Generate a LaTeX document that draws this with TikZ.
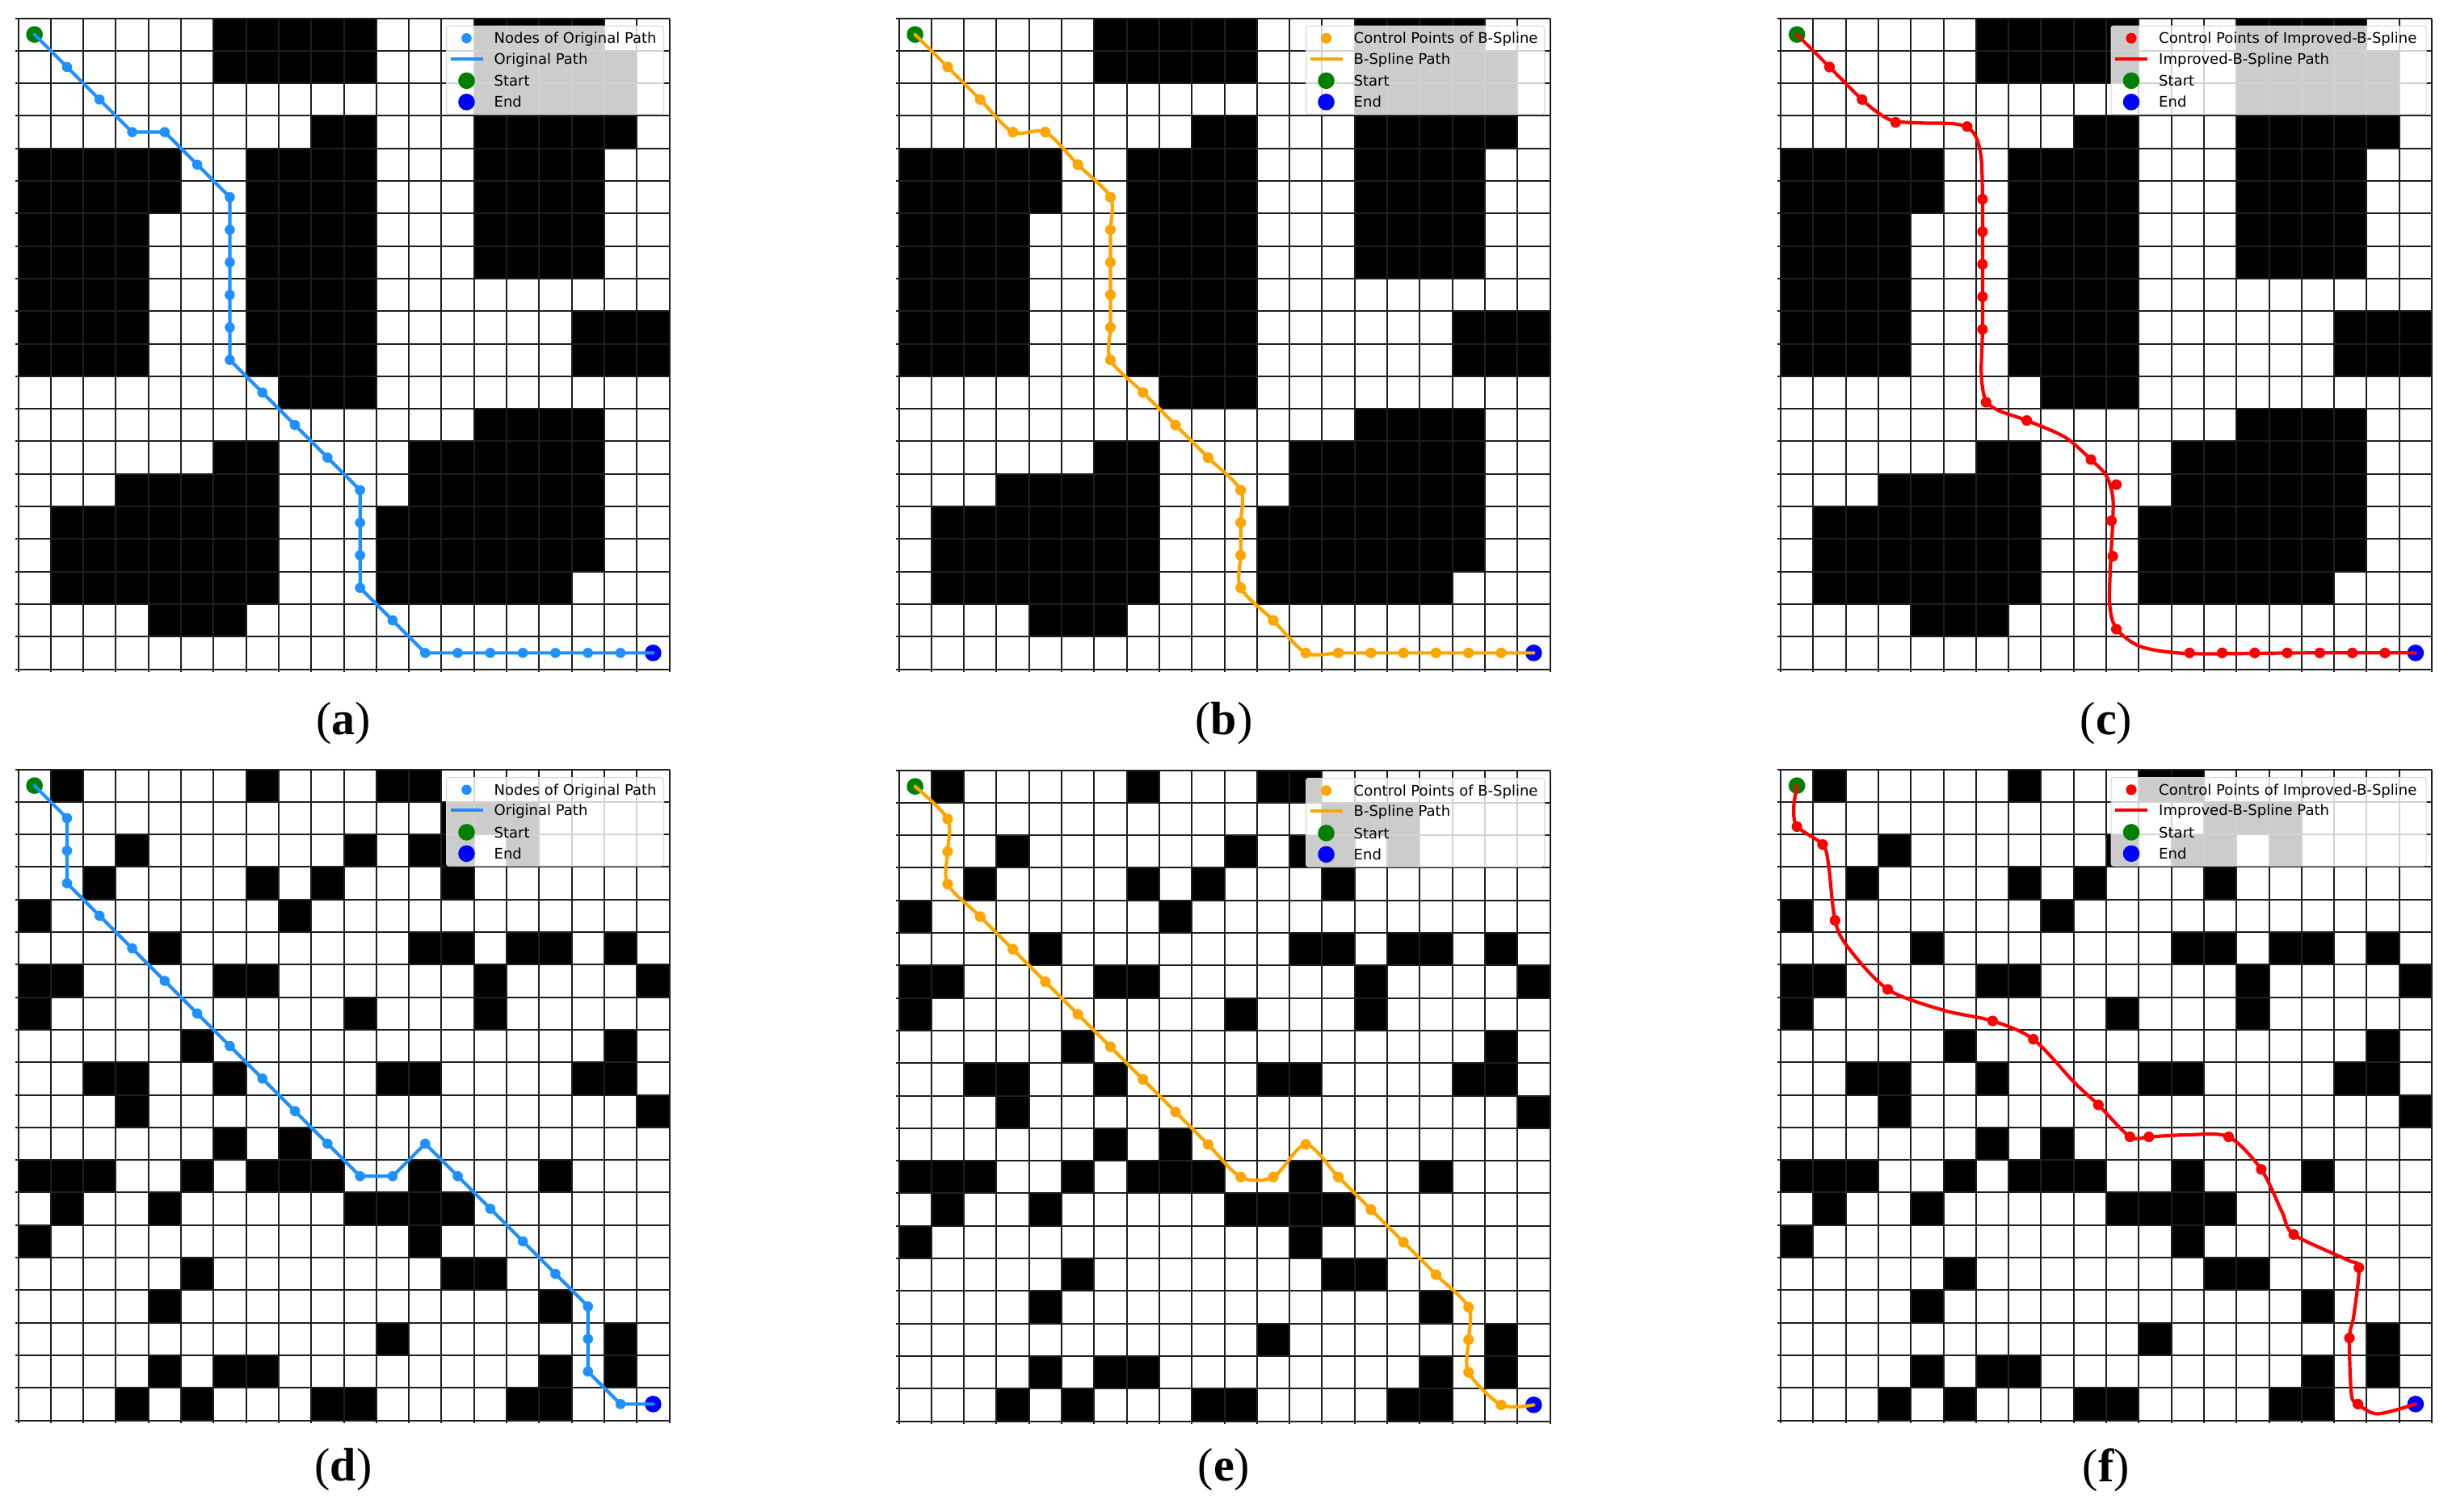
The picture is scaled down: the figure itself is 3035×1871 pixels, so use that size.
\documentclass[tikz,border=0pt]{standalone}
\usepackage{fontspec}
\setmainfont{Liberation Serif}
\newfontfamily\legfont{DejaVu Sans}
\definecolor{mplblue}{RGB}{30,144,255}
\definecolor{mplorange}{RGB}{255,165,0}
\definecolor{mplred}{RGB}{255,0,0}
\definecolor{mplgreen}{RGB}{0,128,0}
\definecolor{mplend}{RGB}{0,0,255}
\definecolor{legedge}{RGB}{214,214,214}
\definecolor{gridcol}{RGB}{30,30,30}
\tikzset{
  gridline/.style={line width=2pt, gridcol},
  legbox/.style={draw=legedge, line width=1pt, fill=white, fill opacity=0.8, rounded corners=3pt},
  legtext/.style={anchor=base west, inner sep=0pt, font=\legfont\fontsize{18}{20}\selectfont, text=black},
  sublabel/.style={font=\fontsize{58}{62}\selectfont, inner sep=0pt},
  pathline/.style={line width=4.2pt, line join=round, line cap=round},
  panel/.style={x=40.3pt, y=-40.3pt}
}
\newcommand\mapAcells{%
  \fill (6,0) rectangle (11,2);
  \fill (14,0) rectangle (18,1);
  \fill (14,1) rectangle (19,4);
  \fill (14,4) rectangle (18,8);
  \fill (9,3) rectangle (11,4);
  \fill (7,4) rectangle (11,11);
  \fill (8,11) rectangle (11,12);
  \fill (0,4) rectangle (5,6);
  \fill (0,6) rectangle (4,11);
  \fill (17,9) rectangle (20,11);
  \fill (14,12) rectangle (18,13);
  \fill (12,13) rectangle (18,15);
  \fill (11,15) rectangle (18,17);
  \fill (11,17) rectangle (17,18);
  \fill (6,13) rectangle (8,14);
  \fill (3,14) rectangle (8,15);
  \fill (1,15) rectangle (8,18);
  \fill (4,18) rectangle (7,19);
}
\newcommand\mapDcells{%
  \foreach \c/\r in {1/0,7/0,11/0,12/0,
    13/1,14/1,15/1,
    3/2,10/2,12/2,13/2,15/2,
    2/3,7/3,9/3,13/3,
    0/4,8/4,
    4/5,12/5,13/5,15/5,16/5,18/5,
    0/6,1/6,6/6,7/6,14/6,19/6,
    0/7,10/7,14/7,
    5/8,18/8,
    2/9,3/9,6/9,11/9,12/9,17/9,18/9,
    3/10,19/10,
    6/11,8/11,
    0/12,1/12,2/12,5/12,7/12,8/12,9/12,12/12,16/12,
    1/13,4/13,10/13,11/13,12/13,13/13,
    0/14,12/14,
    5/15,13/15,14/15,
    4/16,16/16,
    11/17,18/17,
    4/18,6/18,7/18,16/18,18/18,
    3/19,5/19,9/19,10/19,15/19,16/19}
    {\fill (\c,\r) rectangle ++(1,1);}
}
\newcommand\gridlines{%
  \foreach \i in {0,...,20} {
    \draw[gridline] (\i,0) -- (\i,20.09);
    \draw[gridline] (-0.09,\i) -- (20,\i);
  }
}
\newcommand\startend{%
  \fill[mplgreen] (0,0) circle (10.3pt);
  \fill[mplend] (19,19) circle (10.3pt);
}
% #1 X0, #2 Y0, #3 left of box, #4 colour, #5 first text, #6 second text, #7 name prefix, #8 dot radius
\newcommand\drawlegend[8]{%
  \begin{scope}[shift={(#1,#2)}]
    \draw[legbox] (#3,10.5) rectangle (799,120);
    \fill[#4] (#3+25,25.8) circle (#8);
    \draw[#4, line width=4pt] (#3+5,51) -- (#3+45,51);
    \fill[mplgreen] (#3+25,78.4) circle (10.3pt);
    \fill[mplend] (#3+25,104.8) circle (10.3pt);
    \node[legtext] (#7l1) at (#3+59,32.4) {#5};
    \node[legtext] (#7l2) at (#3+59,57.6) {#6};
    \node[legtext] (#7l3) at (#3+59,85) {Start};
    \node[legtext] (#7l4) at (#3+59,111.4) {End};
  \end{scope}
}
\begin{document}
\begin{tikzpicture}[x=1pt,y=-1pt]
\useasboundingbox[fill=white] (0,0) rectangle (3035,1871);

% ---------------- (a) ----------------
\begin{scope}[shift={(22.5,22.5)}, panel]
  \mapAcells
  \gridlines
  \begin{scope}[shift={(0.5,0.5)}]
    \foreach \u/\v in {1/1,2/2,3/3,4/3,5/4,6/5,6/6,6/7,6/8,6/9,6/10,7/11,8/12,9/13,10/14,10/15,10/16,10/17,11/18,12/19,13/19,14/19,15/19,16/19,17/19,18/19}
      {\fill[mplblue] (\u,\v) circle (6.3pt);}
    \startend
    \draw[pathline, mplblue] plot coordinates {(0,0) (1,1) (2,2) (3,3) (4,3) (5,4) (6,5) (6,6) (6,7) (6,8) (6,9) (6,10) (7,11) (8,12) (9,13) (10,14) (10,15) (10,16) (10,17) (11,18) (12,19) (13,19) (14,19) (15,19) (16,19) (17,19) (18,19) (19,19)};
  \end{scope}
\end{scope}
\drawlegend{22.5}{21.5}{530}{mplblue}{Nodes of Original Path}{Original Path}{a}{6.3pt}

% ---------------- (b) ----------------
\begin{scope}[shift={(1112.5,22.5)}, panel]
  \mapAcells
  \gridlines
  \begin{scope}[shift={(0.5,0.5)}]
    \foreach \u/\v in {1/1,2/2,3/3,4/3,5/4,6/5,6/6,6/7,6/8,6/9,6/10,7/11,8/12,9/13,10/14,10/15,10/16,10/17,11/18,12/19,13/19,14/19,15/19,16/19,17/19,18/19}
      {\fill[mplorange] (\u,\v) circle (6.6pt);}
    \startend
    \draw[pathline, mplorange] plot[smooth, tension=0.5] coordinates {(0,0) (1,1) (2,2) (3,3) (4,3) (5,4) (6,5) (6,6) (6,7) (6,8) (6,9) (6,10) (7,11) (8,12) (9,13) (10,14) (10,15) (10,16) (10,17) (11,18) (12,19) (13,19) (14,19) (15,19) (16,19) (17,19) (18,19) (19,19)};
  \end{scope}
\end{scope}
\drawlegend{1112.5}{21.5}{504}{mplorange}{Control Points of B-Spline}{B-Spline Path}{b}{6.6pt}

% ---------------- (c) ----------------
\begin{scope}[shift={(2204,22.5)}, panel]
  \mapAcells
  \gridlines
  \begin{scope}[shift={(0.5,0.5)}]
    \foreach \u/\v in {1/1,2/2,3.03/2.7,5.23/2.83,5.7/5.06,5.7/6.06,5.7/7.06,5.7/8.06,5.7/9.06,5.81/11.3,7.06/11.86,9.03/13.06,9.81/13.83,9.66/14.94,9.7/16.03,9.81/18.27,12.06/19,13.06/19,14.06/19,15.06/19,16.06/19,17.06/19,18.06/19}
      {\fill[mplred] (\u,\v) circle (6.6pt);}
    \startend
    \draw[pathline, mplred] plot[smooth, tension=0.5] coordinates {(0,0) (1.03,1.03) (2.03,2.03) (2.63,2.5) (3.03,2.67) (3.83,2.72) (4.77,2.74) (5.23,2.85) (5.5,3.15) (5.66,3.8) (5.7,5.06) (5.7,7.06) (5.7,9.06) (5.66,10.3) (5.72,10.97) (5.85,11.32) (6.23,11.57) (7.06,11.86) (8.23,12.37) (9.03,13.06) (9.5,13.55) (9.7,14.2) (9.7,14.97) (9.63,16.3) (9.6,17.4) (9.7,18.03) (9.97,18.43) (10.63,18.83) (12.06,19.02) (15.5,19) (19,19)};
  \end{scope}
\end{scope}
\drawlegend{2204}{21.5}{409}{mplred}{Control Points of Improved-B-Spline}{Improved-B-Spline Path}{c}{6.6pt}

% ---------------- (d) ----------------
\begin{scope}[shift={(22.5,952.5)}, panel]
  \mapDcells
  \gridlines
  \begin{scope}[shift={(0.5,0.5)}]
    \foreach \u/\v in {1/1,1/2,1/3,2/4,3/5,4/6,5/7,6/8,7/9,8/10,9/11,10/12,11/12,12/11,13/12,14/13,15/14,16/15,17/16,17/17,17/18,18/19}
      {\fill[mplblue] (\u,\v) circle (6.3pt);}
    \startend
    \draw[pathline, mplblue] plot coordinates {(0,0) (1,1) (1,2) (1,3) (2,4) (3,5) (4,6) (5,7) (6,8) (7,9) (8,10) (9,11) (10,12) (11,12) (12,11) (13,12) (14,13) (15,14) (16,15) (17,16) (17,17) (17,18) (18,19) (19,19)};
  \end{scope}
\end{scope}
\drawlegend{22.5}{952}{530}{mplblue}{Nodes of Original Path}{Original Path}{d}{6.3pt}

% ---------------- (e) ----------------
\begin{scope}[shift={(1112.5,953.5)}, panel]
  \mapDcells
  \gridlines
  \begin{scope}[shift={(0.5,0.5)}]
    \foreach \u/\v in {1/1,1/2,1/3,2/4,3/5,4/6,5/7,6/8,7/9,8/10,9/11,10/12,11/12,12/11,13/12,14/13,15/14,16/15,17/16,17/17,17/18,18/19}
      {\fill[mplorange] (\u,\v) circle (6.6pt);}
    \startend
    \draw[pathline, mplorange] plot[smooth, tension=0.5] coordinates {(0,0) (1,1) (1,2) (1,3) (2,4) (3,5) (4,6) (5,7) (6,8) (7,9) (8,10) (9,11) (10,12) (11,12) (12,11) (13,12) (14,13) (15,14) (16,15) (17,16) (17,17) (17,18) (18,19) (19,19)};
  \end{scope}
\end{scope}
\drawlegend{1112.5}{953}{504}{mplorange}{Control Points of B-Spline}{B-Spline Path}{e}{6.6pt}

% ---------------- (f) ----------------
\begin{scope}[shift={(2204,952.5)}, panel]
  \mapDcells
  \gridlines
  \begin{scope}[shift={(0.5,0.5)}]
    \foreach \u/\v in {0/1.26,0.79/1.81,1.17/4.14,2.79/6.26,6.01/7.23,7.26/7.79,9.26/9.81,10.23/10.79,10.81/10.79,13.26/10.79,14.26/11.79,15.26/13.79,17.26/14.81,16.97/16.97,17.23/19}
      {\fill[mplred] (\u,\v) circle (6.6pt);}
    \startend
    \draw[pathline, mplred] plot[smooth, tension=0.5] coordinates {(0,0) (-0.1,0.7) (0.01,1.26) (0.79,1.81) (0.97,2.43) (1.17,4.14) (1.57,4.97) (2.79,6.26) (4.5,6.9) (6.01,7.23) (7.26,7.79) (8.5,9.1) (9.26,9.81) (10.23,10.79) (10.81,10.79) (11.97,10.73) (13.26,10.79) (14.26,11.79) (14.9,13.1) (15.26,13.79) (16.9,14.57) (17.26,14.81) (17.1,16.3) (16.97,16.97) (17.03,18.7) (17.23,19.0) (17.83,19.3) (19,19)};
  \end{scope}
\end{scope}
\drawlegend{2204}{952}{409}{mplred}{Control Points of Improved-B-Spline}{Improved-B-Spline Path}{f}{6.6pt}

% ---------------- sub-figure labels ----------------
\node[sublabel] (la) at (425,896) {(\textbf{a})};
\node[sublabel] (lb) at (1515,896) {(\textbf{b})};
\node[sublabel] (lc) at (2607,896) {(\textbf{c})};
\node[sublabel] (ld) at (425,1820) {(\textbf{d})};
\node[sublabel] (le) at (1515,1820) {(\textbf{e})};
\node[sublabel] (lf) at (2607,1820) {(\textbf{f})};
\end{tikzpicture}
\end{document}
